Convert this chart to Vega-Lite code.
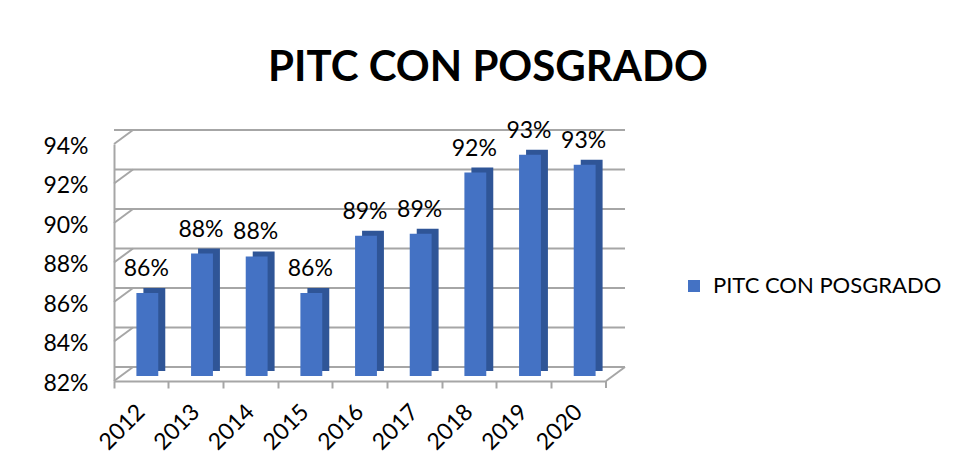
{
  "$schema": "https://vega.github.io/schema/vega-lite/v6.json",
  "width": 492,
  "height": 237,
  "autosize": {"type": "none"},
  "padding": {"left": 114, "top": 144, "right": 348, "bottom": 93},
  "background": "white",
  "title": {"text": "PITC CON POSGRADO", "fontSize": 42, "font": "Lato", "fontWeight": "bold", "color": "black", "anchor": "middle", "frame": "group", "dx": 128, "offset": -3, "baseline": "alphabetic"},
  "datasets": {
    "bars": [
      {"year": "2012", "value": 0.861, "serie": "PITC CON POSGRADO"},
      {"year": "2013", "value": 0.881, "serie": "PITC CON POSGRADO"},
      {"year": "2014", "value": 0.8795, "serie": "PITC CON POSGRADO"},
      {"year": "2015", "value": 0.861, "serie": "PITC CON POSGRADO"},
      {"year": "2016", "value": 0.890, "serie": "PITC CON POSGRADO"},
      {"year": "2017", "value": 0.891, "serie": "PITC CON POSGRADO"},
      {"year": "2018", "value": 0.922, "serie": "PITC CON POSGRADO"},
      {"year": "2019", "value": 0.931, "serie": "PITC CON POSGRADO"},
      {"year": "2020", "value": 0.926, "serie": "PITC CON POSGRADO"}
    ],
    "grid": [
      {"e": 0, "value": 0.82}, {"e": 0, "value": 0.84}, {"e": 0, "value": 0.86}, {"e": 0, "value": 0.88},
      {"e": 0, "value": 0.90}, {"e": 0, "value": 0.92}, {"e": 0, "value": 0.94}
    ],
    "diag": [
      {"e": 0, "value": 0.82}, {"e": 0, "value": 0.84}, {"e": 0, "value": 0.86}, {"e": 0, "value": 0.88},
      {"e": 0, "value": 0.90}, {"e": 0, "value": 0.92}, {"e": 0, "value": 0.94}, {"e": 1, "value": 0.82}
    ],
    "endtick": [{"e": 1, "value": 0.82}]
  },
  "resolve": {"scale": {"x": "independent"}},
  "layer": [
    {
      "data": {"name": "grid"},
      "mark": {"type": "rule", "color": "#a6a6a6", "strokeWidth": 2, "xOffset": 19, "x2Offset": 19, "yOffset": -14},
      "encoding": {
        "y": {"field": "value", "type": "quantitative", "scale": {"domain": [0.82, 0.94], "nice": false, "zero": false}, "title": null,
              "axis": {"values": [0.82, 0.84, 0.86, 0.88, 0.90, 0.92, 0.94], "format": ".0%"}}
      }
    },
    {
      "data": {"name": "diag"},
      "mark": {"type": "rule", "color": "#a6a6a6", "strokeWidth": 2, "x2Offset": 19, "y2Offset": -14},
      "encoding": {
        "x": {"field": "e", "type": "quantitative", "scale": {"domain": [0, 1], "nice": false, "zero": false}, "axis": null},
        "x2": {"field": "e"},
        "y": {"field": "value", "type": "quantitative", "scale": {"domain": [0.82, 0.94], "nice": false, "zero": false}, "title": null,
              "axis": {"values": [0.82, 0.84, 0.86, 0.88, 0.90, 0.92, 0.94], "format": ".0%"}},
        "y2": {"field": "value"}
      }
    },
    {
      "data": {"name": "endtick"},
      "mark": {"type": "rule", "color": "#a6a6a6", "strokeWidth": 2, "y2Offset": 7},
      "encoding": {
        "x": {"field": "e", "type": "quantitative", "scale": {"domain": [0, 1], "nice": false, "zero": false}, "axis": null},
        "y": {"field": "value", "type": "quantitative", "scale": {"domain": [0.82, 0.94], "nice": false, "zero": false}, "title": null,
              "axis": {"values": [0.82, 0.84, 0.86, 0.88, 0.90, 0.92, 0.94], "format": ".0%"}},
        "y2": {"field": "value"}
      }
    },
    {
      "data": {"name": "bars"},
      "encoding": {
        "x": {"field": "year", "type": "nominal", "title": null, "scale": {"paddingInner": 0, "paddingOuter": 0},
              "axis": {"bandPosition": 0, "labelOffset": 0, "labelAngle": -45, "labelAlign": "right", "labelBaseline": "middle", "labelPadding": 20}},
        "y": {"field": "value", "type": "quantitative", "scale": {"domain": [0.82, 0.94], "nice": false, "zero": false}, "title": null,
              "axis": {"values": [0.82, 0.84, 0.86, 0.88, 0.90, 0.92, 0.94], "format": ".0%"}}
      },
      "layer": [
        {
          "mark": {"type": "bar", "color": "#2F5597", "width": {"band": 0.4}, "xOffset": 13, "yOffset": -12, "y2Offset": -10},
          "encoding": {"y2": {"datum": 0.82}}
        },
        {
          "mark": {"type": "bar", "width": {"band": 0.4}, "xOffset": 6, "yOffset": -7, "y2Offset": -5},
          "encoding": {
            "y2": {"datum": 0.82},
            "color": {"field": "serie", "type": "nominal", "title": null, "scale": {"domain": ["PITC CON POSGRADO"], "range": ["#4472C4"]}}
          }
        },
        {
          "mark": {"type": "text", "dx": 5, "dy": -24, "baseline": "alphabetic", "fontSize": 23, "font": "Lato", "color": "black"},
          "encoding": {"text": {"field": "value", "type": "quantitative", "format": ".0%"}}
        }
      ]
    }
  ],
  "config": {
    "view": {"stroke": null},
    "axisX": {"domainColor": "#a6a6a6", "domainWidth": 2, "tickColor": "#a6a6a6", "tickWidth": 2, "tickSize": 7, "labelFontSize": 23, "labelFont": "Lato", "labelColor": "black", "grid": false},
    "axisY": {"domainColor": "#a6a6a6", "domainWidth": 2, "ticks": false, "labelPadding": 26, "labelFontSize": 23, "labelFont": "Lato", "labelColor": "black", "grid": false, "labelOffset": 2},
    "legend": {"orient": "none", "legendX": 569, "legendY": 131, "symbolType": "square", "symbolSize": 144, "symbolStrokeWidth": 0, "labelFontSize": 22, "labelFont": "Lato", "labelColor": "black", "labelLimit": 400, "labelOffset": 8}
  }
}
